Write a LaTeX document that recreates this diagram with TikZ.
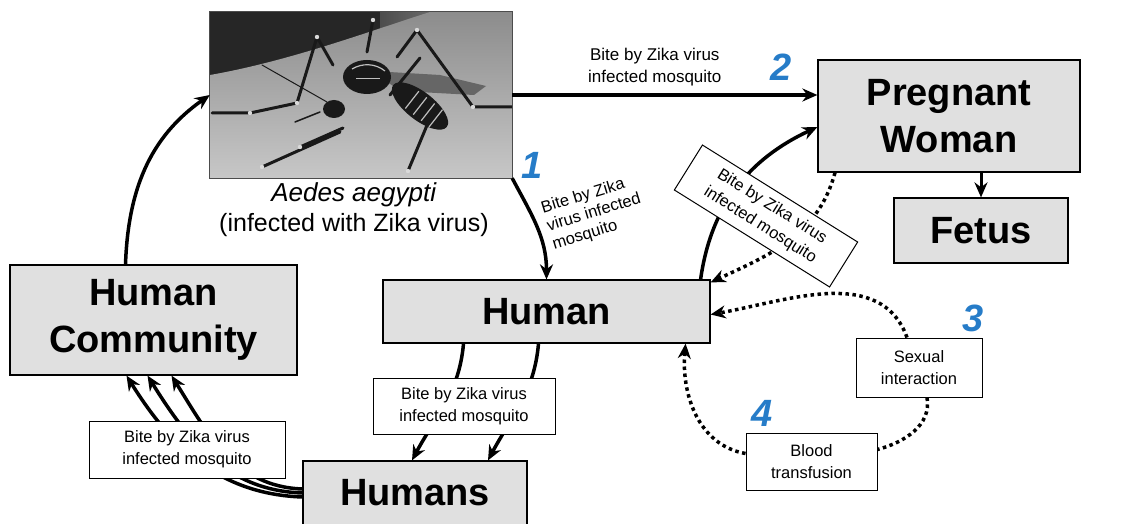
\documentclass[tikz,border=0pt]{standalone}
\usepackage{fontspec}
\setmainfont{Liberation Sans}
\usetikzlibrary{positioning, arrows.meta}
\definecolor{zikablue}{RGB}{38,124,200}
\tikzset{
  >={Stealth[length=15pt,width=13pt]},
  box/.style={draw, line width=1.2pt, fill=black!12, inner sep=0pt, align=center,
    font=\fontsize{38}{47}\selectfont\bfseries},
  tag/.style={draw, line width=1pt, fill=white, inner sep=0pt, align=center,
    font=\fontsize{16.5}{22}\selectfont},
  bite/.style={->, line width=3.5pt},
  spread/.style={->, line width=3.5pt, dash pattern=on 3.5pt off 3.5pt},
  num/.style={text=zikablue, font=\fontsize{38}{38}\selectfont\bfseries\itshape},
  leg/.style={line width=3pt, line cap=round, line join=round, black!90},
}

\begin{document}
\begin{tikzpicture}[x=1pt, y=1pt]
  \useasboundingbox (0,0) rectangle (1132,523);

  % mosquito photo
  \node[minimum width=302pt, minimum height=166pt, inner sep=0pt] (img) at (361,428) {};
  \begin{scope}
    \clip (img.south west) rectangle (img.north east);
    \fill[black!85] (img.south west) rectangle (img.north east);
    \shade[left color=black!70, right color=black!40] (380,511) -- (512,511) -- (512,490) -- (380,490) -- cycle;
    \shade[top color=black!45, bottom color=black!22] (210,448) .. controls (290,462) and (370,492) .. (430,511) -- (512,511) -- (512,345) -- (210,345) -- cycle;
    % wing
    \fill[black!60] (372,452) -- (440,448) -- (486,437) -- (474,428) -- (400,432) -- cycle;
    % legs
    \draw[leg] (333,458) -- (317,486) -- (297,420) -- (250,410) -- (212,410);
    \draw[leg] (367,471) -- (373,503);
    \draw[leg] (397,466) -- (417,493) -- (473,416) -- (512,416);
    \draw[leg] (420,465) -- (390,428);
    \draw[leg] (343,395) -- (300,376);
    \draw[leg] (340,391) -- (262,356);
    \draw[leg] (430,405) -- (408,352);
    \draw[leg, line width=1pt] (327,421) -- (262,458);
    \draw[leg, line width=1.5pt] (320,411) -- (295,401);
    % body
    \fill[black!90, rotate around={-38:(420,417)}] (420,417) ellipse (34pt and 14pt);
    \fill[black!90] (367,446) ellipse (24pt and 17pt);
    \fill[black!90] (334,414) ellipse (11pt and 9pt);
    \foreach \a in {-10,0,10,20}
      \draw[white!75!black, line width=1.2pt, rotate around={-38:(420,417)}] (420+\a,406) -- (420+\a,428);
    \draw[white!75!black, line width=1.2pt] (352,454) .. controls (362,460) and (375,460) .. (385,452);
    \draw[white!75!black, line width=1pt] (356,444) -- (380,444);
    \foreach \p in {(373,503),(317,486),(417,493),(250,410),(297,420),(473,416),(300,376),(262,356),(408,352)}
      \fill[white!85!black] \p circle (2.2pt);
  \end{scope}
  \draw[line width=1pt, black!70] (img.south west) rectangle (img.north east);
  \node[inner sep=0pt, align=center, font=\fontsize{25}{30}\selectfont] (cap) at (354,313)
    {\textit{\fontsize{26}{30}\selectfont Aedes aegypti}\\(infected with Zika virus)};

  % boxes
  \node[box, minimum width=262pt, minimum height=112pt] (pw) at (949,407) {Pregnant\\Woman};
  \node[box, minimum width=174pt, minimum height=65pt] (fetus) at (981,292.5) {Fetus};
  \node[box, minimum width=327pt, minimum height=63pt] (hum) at (546.5,211.5) {Human};
  \node[box, minimum width=287pt, minimum height=110pt] (hc) at (153.5,203) {Human\\Community};
  \node[box, minimum width=224pt, minimum height=64pt] (humans) at (415,30) {Humans};
  \node[tag, minimum width=126pt, minimum height=59pt] (sex) at (919,155.5) {Sexual\\interaction};
  \node[tag, minimum width=131pt, minimum height=57pt] (blood) at (811.5,61.5) {Blood\\transfusion};

  % numbers
  \node[num] (n1) at (532,358) {1};
  \node[num] (n2) at (781,456) {2};
  \node[num] (n3) at (973,205) {3};
  \node[num] (n4) at (762,110) {4};

  % transitions
  \draw[bite] (img.east) -- (img.east -| pw.west)
    node[midway, above=7pt, inner sep=0pt, align=center, xshift=-10pt, font=\fontsize{17}{22}\selectfont]
    {Bite by Zika virus\\infected mosquito};
  \draw (img.south east) edge[bite, out=-62, in=90] (hum.north)
    ([xshift=-28pt]hc.north) edge[bite, out=88, in=215] (img.west)
    (pw.south -| fetus.north) edge[bite, line width=3pt] (fetus.north);
  \node[rotate=17, align=left, inner sep=0pt, font=\fontsize{16.5}{19}\selectfont] (lab1) at (594,310)
    {Bite by Zika\\virus infected\\mosquito};

  \draw ([xshift=-83pt]hum.south) edge[bite, out=-95, in=62] ([xshift=-3pt]humans.north)
    ([xshift=-8pt]hum.south) edge[bite, out=-95, in=62] ([xshift=73pt]humans.north);
  \node[tag, minimum width=182pt, minimum height=56pt] (tagmid) at (464,117) {Bite by Zika virus\\infected mosquito};

  \draw ([yshift=-4pt]humans.west) edge[bite, out=178, in=-58] ([xshift=-27pt]hc.south)
    (humans.west) edge[bite, out=178, in=-58] ([xshift=-6pt]hc.south)
    ([yshift=4pt]humans.west) edge[bite, out=178, in=-58] ([xshift=18pt]hc.south);
  \node[tag, minimum width=196pt, minimum height=57pt] (tagleft) at (187,73.5) {Bite by Zika virus\\infected mosquito};

  \draw[bite] ([xshift=-10pt]hum.north east) to[out=82, in=205] ([yshift=-11pt]pw.west);
  \draw[spread] ([xshift=-114pt]pw.south) to[out=-105, in=25] ([yshift=-3pt]hum.north east);
  \node[tag, rotate=-32, minimum width=183pt, minimum height=53pt] (tagpw) at (766,307) {Bite by Zika virus\\infected mosquito};

  \draw[spread] ([xshift=-12pt]sex.north) to[out=110, in=10] ([yshift=-3pt]hum.east);
  \draw[spread] ([yshift=8pt]blood.west) to[out=170, in=-95] ([xshift=-25pt]hum.south east);
  \draw[spread, -] ([xshift=8pt]sex.south) to[out=-80, in=15] ([yshift=12pt]blood.east);
\end{tikzpicture}
\end{document}
